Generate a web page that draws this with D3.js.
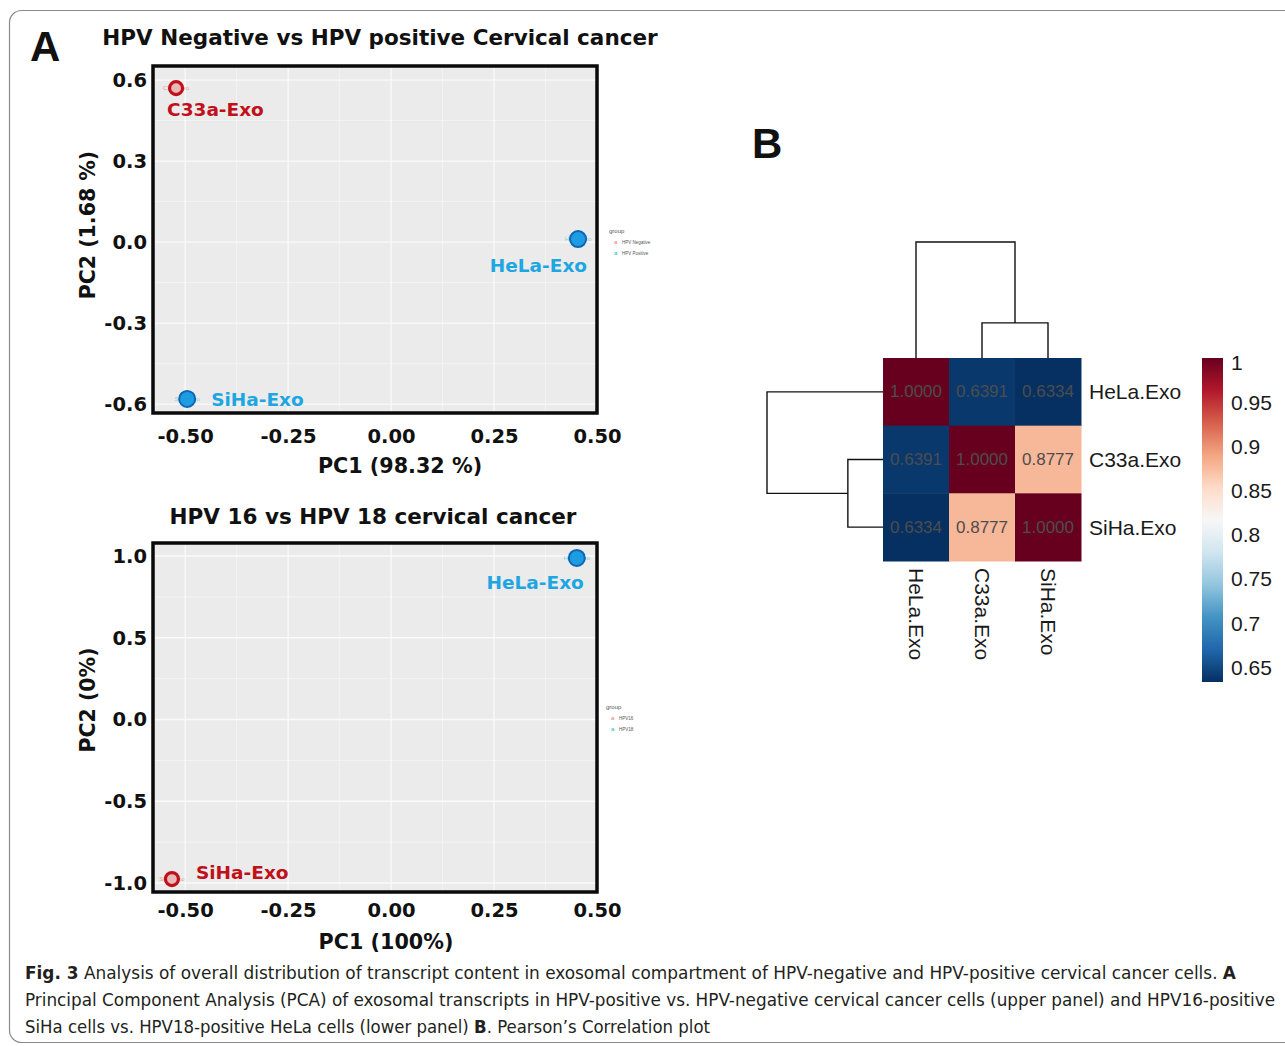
<!DOCTYPE html>
<html>
<head>
<meta charset="utf-8">
<script src="https://cdn.jsdelivr.net/npm/d3@7"></script>
<style>
  body { margin: 0; background: #fff; }
  svg { display: block; }
</style>
</head>
<body>
<svg id="fig" width="1285" height="1046"></svg>
<script>
// panel A, upper PCA (HPV negative vs positive)
const topSamples = ["C33a-Exo", "HeLa-Exo", "SiHa-Exo"]
const topPC1 = [-0.522, 0.454, -0.495]
const topPC2 = [0.570, 0.011, -0.581]
const topGroup = ["HPV Negative", "HPV Positive", "HPV Positive"]
const topGroupLevels = ["HPV Negative", "HPV Positive"]
const topXTicks = [-0.5, -0.25, 0, 0.25, 0.5]
const topYTicks = [-0.6, -0.3, 0, 0.3, 0.6]

// panel A, lower PCA (HPV16 vs HPV18)
const lowSamples = ["HeLa-Exo", "SiHa-Exo"]
const lowPC1 = [0.451, -0.532]
const lowPC2 = [0.988, -0.976]
const lowGroup = ["HPV18", "HPV16"]
const lowGroupLevels = ["HPV16", "HPV18"]
const lowXTicks = [-0.5, -0.25, 0, 0.25, 0.5]
const lowYTicks = [-1, -0.5, 0, 0.5, 1]

// panel B, pearson correlation
const corrSamples = ["HeLa.Exo", "C33a.Exo", "SiHa.Exo"]
const corrValues = [
    [1.0000, 0.6391, 0.6334],
    [0.6391, 1.0000, 0.8777],
    [0.6334, 0.8777, 1.0000]
]
const corrTree = {
    height: 0.571,
    children: [{ name: "HeLa.Exo" }, { height: 0.173, children: [{ name: "C33a.Exo" }, { name: "SiHa.Exo" }] }]
}
const colorbarTicks = [0.65, 0.7, 0.75, 0.8, 0.85, 0.9, 0.95, 1]

const BOLD = "'DejaVu Sans', sans-serif"
const ARIAL = "'Liberation Sans', Arial, sans-serif"
const NARROW = "'Liberation Sans Narrow', 'DejaVu Sans Condensed', 'Liberation Sans', sans-serif"

const markerStyle = [{ fill: "#e9b8b8", stroke: "#c0101a", r: 6.5, sw: 3.2 }, { fill: "#1e9ce2", stroke: "#0b66b6", r: 8, sw: 2 }]
const labelColor = ["#c0101a", "#1ea6e2"]
const legendColor = ["#f8766d", "#00bfc4"]

const minus = s => s.replace("\u2212", "-")

const svg = d3.select("#fig")
svg.append("rect").attr("width", 1285).attr("height", 1046).attr("fill", "#fff")
svg.append("rect")
    .attr("x", 9.5).attr("y", 10.5).attr("width", 1300).attr("height", 1032).attr("rx", 12)
    .attr("fill", "none").attr("stroke", "#8a8a8a").attr("stroke-width", 1.2)

svg.append("text").attr("x", 30).attr("y", 61).text("A")
    .attr("font-family", ARIAL).attr("font-weight", "bold").attr("font-size", 42).attr("fill", "#111")
svg.append("text").attr("x", 752).attr("y", 158).text("B")
    .attr("font-family", ARIAL).attr("font-weight", "bold").attr("font-size", 42).attr("fill", "#111")

function drawPCA(opt) {
    const x = d3.scaleLinear().domain(opt.xDomain).range([opt.left, opt.right])
    const y = d3.scaleLinear().domain(opt.yDomain).range([opt.bottom, opt.top])
    const g = svg.append("g")

    g.append("rect")
        .attr("x", opt.left).attr("y", opt.top).attr("width", opt.right - opt.left).attr("height", opt.bottom - opt.top)
        .attr("fill", "#ebebeb")

    // ggplot style grid: minor between majors, then majors
    const minorX = d3.pairs(opt.xTicks).map(p => (p[0] + p[1]) / 2)
    const minorY = d3.pairs(opt.yTicks).map(p => (p[0] + p[1]) / 2)
    g.selectAll(".minx").data(minorX).enter().append("line")
        .attr("x1", d => x(d)).attr("x2", d => x(d)).attr("y1", opt.top).attr("y2", opt.bottom)
        .attr("stroke", "#f6f6f6").attr("stroke-width", 0.7)
    g.selectAll(".miny").data(minorY).enter().append("line")
        .attr("x1", opt.left).attr("x2", opt.right).attr("y1", d => y(d)).attr("y2", d => y(d))
        .attr("stroke", "#f6f6f6").attr("stroke-width", 0.7)
    g.selectAll(".majx").data(opt.xTicks).enter().append("line")
        .attr("x1", d => x(d)).attr("x2", d => x(d)).attr("y1", opt.top).attr("y2", opt.bottom)
        .attr("stroke", "#fafafa").attr("stroke-width", 1.3)
    g.selectAll(".majy").data(opt.yTicks).enter().append("line")
        .attr("x1", opt.left).attr("x2", opt.right).attr("y1", d => y(d)).attr("y2", d => y(d))
        .attr("stroke", "#fafafa").attr("stroke-width", 1.3)

    // points
    const pts = opt.samples.map((s, i) => ({ name: s, x: opt.pc1[i], y: opt.pc2[i], gi: opt.levels.indexOf(opt.group[i]) }))
    // faint repel text under marker
    g.selectAll(".ghost").data(pts).enter().append("text")
        .attr("x", d => x(d.x)).attr("y", d => y(d.y)).text(d => d.name)
        .attr("text-anchor", "middle").attr("dominant-baseline", "central")
        .attr("font-family", ARIAL).attr("font-size", 6).attr("fill", d => d.gi === 0 ? "#e99a9a" : "#7fd0e0")
    g.selectAll(".pt").data(pts).enter().append("circle")
        .attr("cx", d => x(d.x)).attr("cy", d => y(d.y))
        .attr("r", d => markerStyle[d.gi].r)
        .attr("fill", d => markerStyle[d.gi].fill)
        .attr("stroke", d => markerStyle[d.gi].stroke).attr("stroke-width", d => markerStyle[d.gi].sw)
    g.selectAll(".lab").data(pts).enter().append("text")
        .attr("x", d => x(d.x) + opt.nudge[d.name][0]).attr("y", d => y(d.y) + opt.nudge[d.name][1])
        .attr("text-anchor", d => opt.nudge[d.name][2])
        .attr("dominant-baseline", "central")
        .text(d => d.name)
        .attr("font-family", BOLD).attr("font-weight", "bold").attr("font-size", 18.5)
        .attr("fill", d => labelColor[d.gi])

    g.append("rect")
        .attr("x", opt.left).attr("y", opt.top).attr("width", opt.right - opt.left).attr("height", opt.bottom - opt.top)
        .attr("fill", "none").attr("stroke", "#0a0a0a").attr("stroke-width", 3.5)

    // axes
    g.append("g").attr("transform", `translate(0,${opt.bottom})`)
        .call(d3.axisBottom(x).tickValues(opt.xTicks).tickFormat(d => minus(d3.format(".2f")(d))).tickSize(0).tickPadding(opt.xPad))
        .call(a => a.select(".domain").remove())
        .selectAll("text")
        .attr("font-family", BOLD).attr("font-weight", "bold").attr("font-size", 19.5).attr("fill", "#111")
    g.append("g").attr("transform", `translate(${opt.left},0)`)
        .call(d3.axisLeft(y).tickValues(opt.yTicks).tickFormat(d => minus(d3.format(".1f")(d))).tickSize(0).tickPadding(6))
        .call(a => a.select(".domain").remove())
        .selectAll("text")
        .attr("font-family", BOLD).attr("font-weight", "bold").attr("font-size", 19.5).attr("fill", "#111")

    // titles
    g.append("text").attr("x", opt.titlePos[0]).attr("y", opt.titlePos[1]).text(opt.title)
        .attr("text-anchor", "middle").attr("dominant-baseline", "central")
        .attr("font-family", BOLD).attr("font-weight", "bold").attr("font-size", 21.5).attr("fill", "#111")
    g.append("text").attr("x", opt.xTitlePos[0]).attr("y", opt.xTitlePos[1]).text(opt.xTitle)
        .attr("text-anchor", "middle").attr("dominant-baseline", "central")
        .attr("font-family", BOLD).attr("font-weight", "bold").attr("font-size", 20.7).attr("fill", "#111")
    g.append("text")
        .attr("transform", `translate(${opt.yTitlePos[0]},${opt.yTitlePos[1]}) rotate(-90)`)
        .text(opt.yTitle)
        .attr("text-anchor", "middle").attr("dominant-baseline", "central")
        .attr("font-family", BOLD).attr("font-weight", "bold").attr("font-size", 20.5).attr("fill", "#111")

    // tiny legend
    const lg = g.append("g").attr("transform", `translate(${opt.legendPos[0]},${opt.legendPos[1]})`)
    lg.append("text").attr("x", 0).attr("y", 0).text("group")
        .attr("font-family", ARIAL).attr("font-size", 6).attr("fill", "#555")
    opt.levels.forEach((lv, i) => {
        lg.append("text").attr("x", 5).attr("y", 11 + i * 11).text("a")
            .attr("font-family", ARIAL).attr("font-size", 6).attr("fill", legendColor[i])
        lg.append("text").attr("x", 13).attr("y", 11 + i * 11).text(lv)
            .attr("font-family", ARIAL).attr("font-size", 4.5).attr("fill", "#555")
    })
}

drawPCA({
    samples: topSamples, pc1: topPC1, pc2: topPC2, group: topGroup, levels: topGroupLevels,
    xTicks: topXTicks, yTicks: topYTicks,
    xDomain: [-0.578, 0.5], yDomain: [-0.633, 0.652],
    left: 153, right: 597, top: 66, bottom: 413, xPad: 16,
    nudge: { "C33a-Exo": [-9, 21, "start"], "HeLa-Exo": [9, 26, "end"], "SiHa-Exo": [24, 1, "start"] },
    title: "HPV Negative vs HPV positive Cervical cancer", titlePos: [380, 37],
    xTitle: "PC1 (98.32 %)", xTitlePos: [400, 466],
    yTitle: "PC2 (1.68 %)", yTitlePos: [88, 225],
    legendPos: [609, 233]
})

drawPCA({
    samples: lowSamples, pc1: lowPC1, pc2: lowPC2, group: lowGroup, levels: lowGroupLevels,
    xTicks: lowXTicks, yTicks: lowYTicks,
    xDomain: [-0.578, 0.5], yDomain: [-1.055, 1.0795],
    left: 153, right: 597, top: 543, bottom: 892, xPad: 11,
    nudge: { "HeLa-Exo": [7, 25, "end"], "SiHa-Exo": [24, -7, "start"] },
    title: "HPV 16 vs HPV 18 cervical cancer", titlePos: [373, 516],
    xTitle: "PC1 (100%)", xTitlePos: [386, 942],
    yTitle: "PC2 (0%)", yTitlePos: [88, 700],
    legendPos: [606, 709]
})

// ---- panel B heatmap ----
function drawHeatmap() {
    const hx = d3.scaleBand().domain(corrSamples).range([883, 1081])
    const hy = d3.scaleBand().domain(corrSamples).range([358, 561])
    const vmin = d3.min(corrValues.flat())
    const vmax = d3.max(corrValues.flat())
    // colorRampPalette(rev(RdBu 11)) style: piecewise linear through the brewer colours
    const pal = d3.schemeRdBu[11]
    const color = d3.scaleLinear()
        .domain(pal.map((c, k) => vmax - (vmax - vmin) * k / (pal.length - 1)))
        .range(pal)
    const g = svg.append("g")

    const cells = []
    corrValues.forEach((row, i) => row.forEach((v, j) => cells.push({ r: corrSamples[i], c: corrSamples[j], v })))
    g.selectAll(".cell").data(cells).enter().append("rect")
        .attr("x", d => hx(d.c)).attr("y", d => hy(d.r))
        .attr("width", hx.bandwidth() + 0.5).attr("height", hy.bandwidth() + 0.5)
        .attr("fill", d => color(d.v))
    g.selectAll(".num").data(cells).enter().append("text")
        .attr("x", d => hx(d.c) + hx.bandwidth() / 2).attr("y", d => hy(d.r) + hy.bandwidth() / 2)
        .attr("text-anchor", "middle").attr("dominant-baseline", "central")
        .text(d => d.v.toFixed(4))
        .attr("font-family", ARIAL).attr("font-size", 17).attr("fill", "#4d4d4d")

    g.selectAll(".rowlab").data(corrSamples).enter().append("text")
        .attr("x", 1089).attr("y", d => hy(d) + hy.bandwidth() / 2)
        .attr("dominant-baseline", "central").text(d => d)
        .attr("font-family", ARIAL).attr("font-size", 21).attr("fill", "#1a1a1a")
    g.selectAll(".collab").data(corrSamples).enter().append("text")
        .attr("transform", d => `translate(${hx(d) + hx.bandwidth() / 2},568) rotate(90)`)
        .attr("dominant-baseline", "central").text(d => d)
        .attr("font-family", ARIAL).attr("font-size", 21).attr("fill", "#1a1a1a")

    // dendrograms
    const root = d3.hierarchy(corrTree)
    const dh = d3.scaleLinear().domain([0, root.data.height]).range([0, 116])
    function drawTree(band, toXY) {
        root.eachAfter(n => {
            n.pos = n.children ? d3.mean(n.children, c => c.pos) : band(n.data.name) + band.bandwidth() / 2
            n.h = n.data.height || 0
        })
        const path = d3.path()
        root.each(n => {
            if (!n.children) return
            const a = n.children[0], b = n.children[n.children.length - 1]
            let p = toXY(a.pos, dh(a.h)); path.moveTo(p[0], p[1])
            p = toXY(a.pos, dh(n.h)); path.lineTo(p[0], p[1])
            p = toXY(b.pos, dh(n.h)); path.lineTo(p[0], p[1])
            p = toXY(b.pos, dh(b.h)); path.lineTo(p[0], p[1])
        })
        g.append("path").attr("d", path.toString())
            .attr("fill", "none").attr("stroke", "#111").attr("stroke-width", 1.4)
    }
    drawTree(hx, (pos, h) => [pos, 358 - h])
    drawTree(hy, (pos, h) => [883 - h, pos])

    // colour bar
    const cy = d3.scaleLinear().domain([vmin, vmax]).range([682, 358])
    const grad = svg.append("defs").append("linearGradient").attr("id", "cbar")
        .attr("x1", 0).attr("x2", 0).attr("y1", 1).attr("y2", 0)
    d3.range(41).forEach(k => {
        const v = vmin + (vmax - vmin) * k / 40
        grad.append("stop").attr("offset", k / 40).attr("stop-color", color(v))
    })
    g.append("rect").attr("x", 1202).attr("y", cy(vmax)).attr("width", 21).attr("height", cy(vmin) - cy(vmax))
        .attr("fill", "url(#cbar)")
    g.selectAll(".cbl").data(colorbarTicks).enter().append("text")
        .attr("x", 1231).attr("y", d => cy(d) + (d === 1 ? 4 : 0))
        .attr("dominant-baseline", "central").text(d => String(d))
        .attr("font-family", ARIAL).attr("font-size", 21).attr("fill", "#1a1a1a")
}
drawHeatmap()

// ---- caption ----
const caption = [
    { y: 979, len: 1211, parts: [["Fig. 3", true], ["  Analysis of overall distribution of transcript content in exosomal compartment of HPV-negative and HPV-positive cervical cancer cells. ", false], ["A", true]] },
    { y: 1006, len: 1250, parts: [["Principal Component Analysis (PCA) of exosomal transcripts in HPV-positive vs. HPV-negative cervical cancer cells (upper panel) and HPV16-positive", false]] },
    { y: 1033, len: 685, parts: [["SiHa cells vs. HPV18-positive HeLa cells (lower panel) ", false], ["B", true], [". Pearson\u2019s Correlation plot", false]] }
]
caption.forEach(line => {
    const t = svg.append("text").attr("x", 25).attr("y", line.y)
        .attr("textLength", line.len).attr("lengthAdjust", "spacingAndGlyphs")
        .attr("font-family", NARROW).attr("font-size", 18).attr("fill", "#231f20")
    line.parts.forEach(p => {
        t.append("tspan").text(p[0]).attr("font-weight", p[1] ? "bold" : "normal")
    })
})
</script>
</body>
</html>
